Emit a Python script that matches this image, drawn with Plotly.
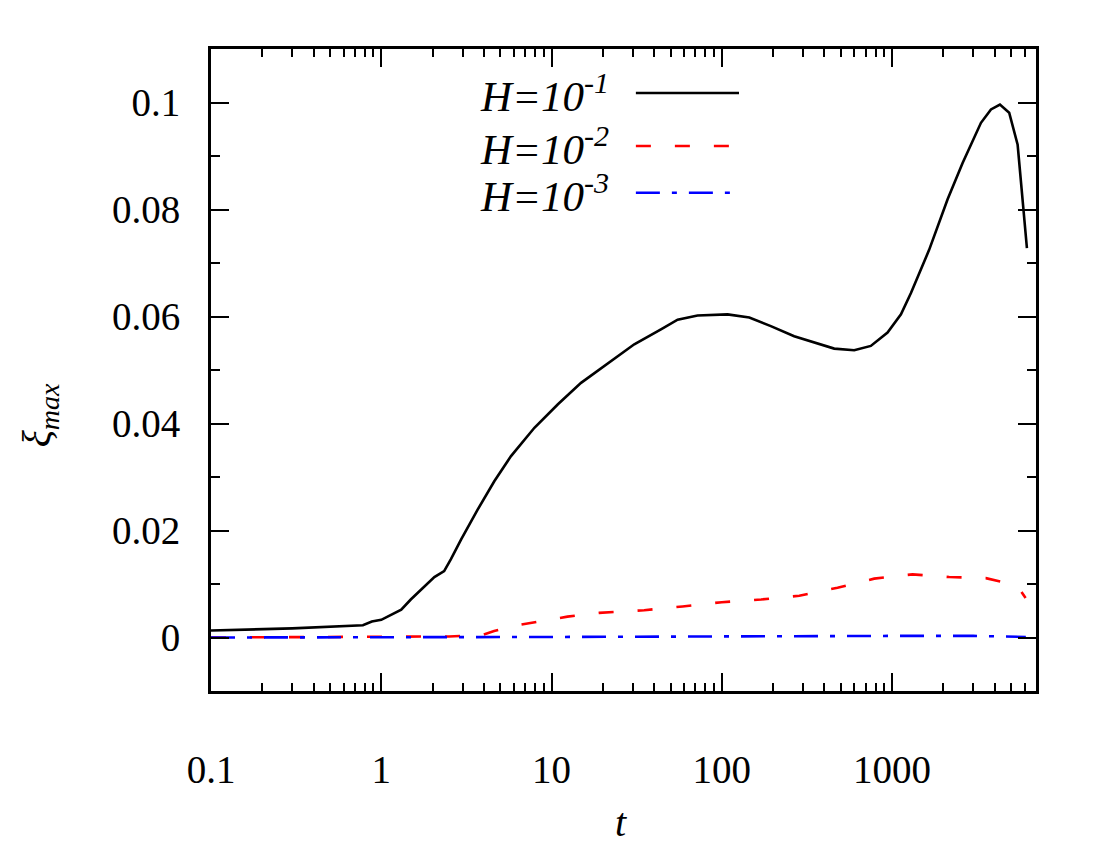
import plotly.graph_objects as go

# H = 1e-1
t_h1 = [0.1, 0.3, 0.78, 0.88, 1.0, 1.14, 1.31, 1.49, 1.79, 2.05, 2.34, 2.56, 2.94,
        3.68, 4.61, 5.78, 7.93, 10.9, 14.9, 21.4, 30.6, 43.9, 55, 72, 108, 145, 194,
        266, 349, 457, 599, 750, 940, 1127, 1290, 1652, 2118, 2594, 3325, 3806,
        4297, 4870, 5460, 5840, 6190]
xi_h1 = [0.0013, 0.0017, 0.0023, 0.0030, 0.0033, 0.0043, 0.0052, 0.0071, 0.0096,
         0.0113, 0.0124, 0.0146, 0.0183, 0.0239, 0.0292, 0.0339, 0.0392, 0.0436,
         0.0476, 0.0513, 0.0548, 0.0576, 0.0594, 0.0602, 0.0604, 0.0598, 0.0582,
         0.0563, 0.0551, 0.0540, 0.0537, 0.0545, 0.0570, 0.0604, 0.0644,
         0.0725, 0.0819, 0.0887, 0.0962, 0.0987, 0.0996, 0.0981, 0.0921, 0.0819,
         0.0728]

# H = 1e-2
t_h2 = [0.1, 1.0, 2.5, 3.85, 4.6, 6.6, 12.4, 19, 35, 58.8, 100, 170, 285, 478, 785,
        1318, 2163, 3550, 4550, 5700, 6080]
xi_h2 = [0.0, 0.0001, 0.0002, 0.0004, 0.0012, 0.0024, 0.0039, 0.0046, 0.0051, 0.0058,
         0.0066, 0.0071, 0.0078, 0.0093, 0.0110, 0.0118, 0.0113, 0.0111, 0.0103,
         0.0087, 0.0074]

# H = 1e-3
t_h3 = [0.1, 1.0, 10, 100, 300, 1000, 3000, 6100]
xi_h3 = [0.0, 0.0, 0.0001, 0.0002, 0.0003, 0.0003, 0.0003, 0.0001]

x_ticks = [0.1, 1, 10, 100, 1000]
x_ticktext = ["0.1", "1", "10", "100", "1000"]
x_minor = [m * 10.0 ** e for e in range(-1, 4) for m in range(2, 10) if m * 10.0 ** e < 7000]
y_ticks = [0, 0.02, 0.04, 0.06, 0.08, 0.1]
y_ticktext = ["0", "0.02", "0.04", "0.06", "0.08", "0.1"]

labels = ["H=10<sup>-1</sup>", "H=10<sup>-2</sup>", "H=10<sup>-3</sup>"]
colors = ["black", "red", "blue"]
dashes = ["solid", "15px,24px", "24px,12px,5px,12px"]

FONT = "Liberation Serif"

fig = go.Figure()
for t, xi, c, d in zip([t_h1, t_h2, t_h3], [xi_h1, xi_h2, xi_h3], colors, dashes):
    fig.add_trace(go.Scatter(x=t, y=xi, mode="lines",
                             line=dict(color=c, width=2.6, dash=d),
                             showlegend=False))

# hand made legend (text left of the sample, like gnuplot)
rows = [0.9315, 0.849, 0.776]
for lab, c, d, ry in zip(labels, colors, dashes, rows):
    fig.add_annotation(x=0.485, y=ry, xref="paper", yref="paper",
                       text="<i>" + lab + "</i>", showarrow=False,
                       xanchor="right", yanchor="middle",
                       font=dict(family=FONT, size=43, color="black"))
    fig.add_shape(type="line", xref="paper", yref="paper",
                  x0=0.515, x1=0.64, y0=ry, y1=ry,
                  line=dict(color=c, width=2.6, dash=d))

# axis titles
fig.add_annotation(x=0.497, y=-0.205, xref="paper", yref="paper", text="<i>t</i>",
                   showarrow=False, yanchor="middle",
                   font=dict(family=FONT, size=40, color="black"))
fig.add_annotation(x=-0.208, y=0.43, xref="paper", yref="paper",
                   text="<i>ξ<sub>max</sub></i>", showarrow=False, textangle=-90,
                   xanchor="center", yanchor="middle",
                   font=dict(family=FONT, size=40, color="black"))

fig.update_xaxes(type="log", range=[-1, 3.845], automargin=False,
                 tickmode="array", tickvals=x_ticks, ticktext=x_ticktext,
                 ticks="inside", ticklen=18, tickwidth=2, tickcolor="black",
                 minor=dict(tickmode="array", tickvals=x_minor, ticks="inside",
                            ticklen=8, tickwidth=2, tickcolor="black", showgrid=False),
                 showline=True, linewidth=3, linecolor="black", mirror="ticks",
                 showgrid=False, zeroline=False, ticklabelstandoff=42,
                 tickfont=dict(family=FONT, size=39, color="black"))
fig.update_yaxes(range=[-0.01, 0.11], automargin=False,
                 tickmode="array", tickvals=y_ticks, ticktext=y_ticktext,
                 ticks="inside", ticklen=18, tickwidth=2, tickcolor="black",
                 minor=dict(dtick=0.01, ticks="inside", ticklen=9, tickwidth=2,
                            tickcolor="black", showgrid=False),
                 showline=True, linewidth=3, linecolor="black", mirror="ticks",
                 showgrid=False, zeroline=False, ticklabelstandoff=20,
                 tickfont=dict(family=FONT, size=39, color="black"))

# page body adds ~7px offset, so margins are trimmed to land the frame where the original sits
fig.update_layout(width=1100, height=850,
                  margin=dict(l=203, r=72, t=41, b=167),
                  plot_bgcolor="white", paper_bgcolor="white",
                  font=dict(family=FONT))

fig.write_html("out.html")
